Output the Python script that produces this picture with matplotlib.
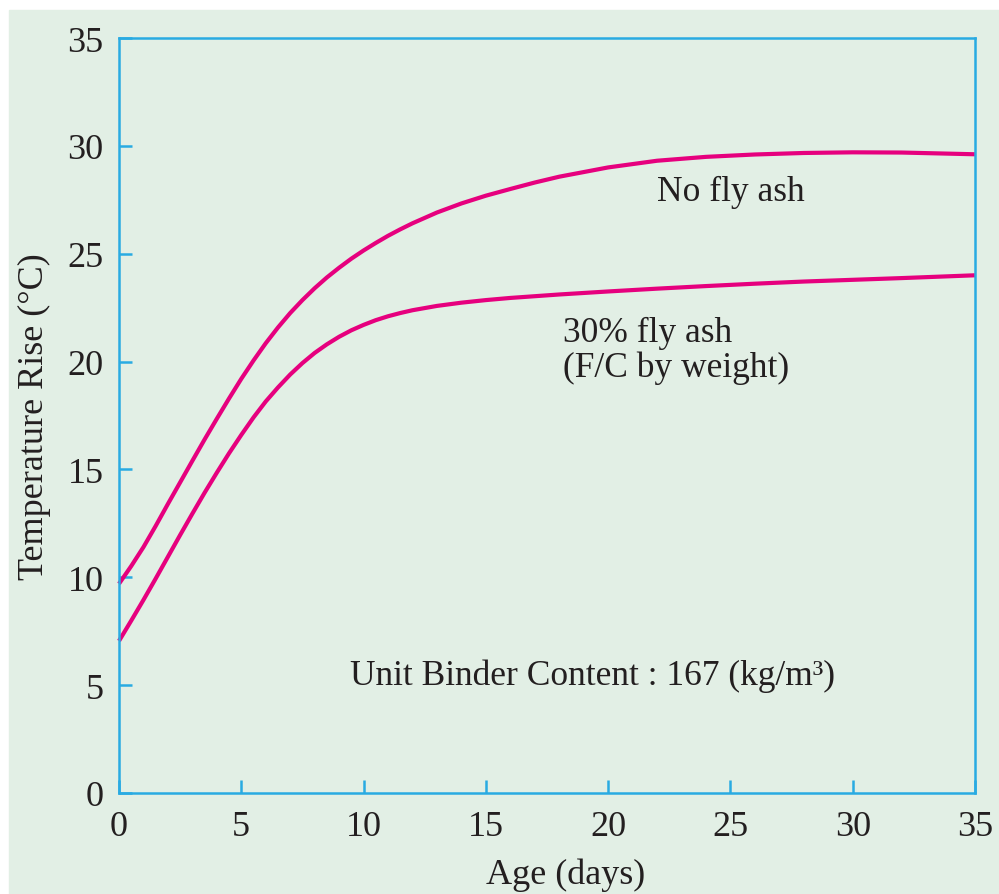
import matplotlib
matplotlib.use('Agg')
from matplotlib import pyplot as plt
from matplotlib.patches import Rectangle

# Data
days = [0, 0.5, 1, 1.5, 2, 2.5, 3, 3.5, 4, 4.5, 5, 5.5, 6, 6.5, 7, 7.5, 8, 8.5,
        9, 9.5, 10, 10.5, 11, 11.5, 12, 13, 14, 15, 16, 17, 18,
        20, 22, 24, 26, 28, 30, 32, 35]
no_fly_ash = [9.7, 10.52, 11.4, 12.38, 13.4, 14.4, 15.4, 16.39, 17.35, 18.29,
              19.2, 20.05, 20.85, 21.58, 22.25, 22.85, 23.4, 23.9, 24.35, 24.77,
              25.15, 25.5, 25.83, 26.13, 26.41, 26.91, 27.33, 27.69, 28.0,
              28.3, 28.57, 29.0, 29.31, 29.49, 29.6, 29.67, 29.7, 29.69, 29.61]
fly_ash_30 = [7.05, 7.99, 8.95, 9.94, 10.95, 11.96, 12.95, 13.92, 14.85, 15.75,
              16.6, 17.41, 18.15, 18.8, 19.4, 19.93, 20.4, 20.8, 21.15, 21.45,
              21.7, 21.92, 22.1, 22.25, 22.38, 22.58, 22.73, 22.85, 22.95,
              23.03, 23.11, 23.25, 23.38, 23.5, 23.61, 23.71, 23.79, 23.87, 24.0]
ticks = [0, 5, 10, 15, 20, 25, 30, 35]

bg = '#e2efe5'
blue = '#29abe2'
pink = '#e6007e'
ink = '#231f20'

plt.rcParams['font.family'] = ['Liberation Serif', 'DejaVu Serif']

fig = plt.figure(figsize=(9.99, 8.95), dpi=100, facecolor='white')
fig.patches.append(Rectangle((9 / 999, 0), 1, 1 - 11 / 895,
                             transform=fig.transFigure, color=bg, zorder=-5))
ax = fig.add_axes([119 / 999, 1 - 794 / 895, 856 / 999, 755 / 895])
ax.set_facecolor(bg)

ax.plot(days, no_fly_ash, color=pink, lw=3, solid_capstyle='butt',
        solid_joinstyle='round', clip_on=False)
ax.plot(days, fly_ash_30, color=pink, lw=3, solid_capstyle='butt',
        solid_joinstyle='round', clip_on=False)

ax.text(22.0, 27.9, 'No fly ash', fontsize=25.5, color=ink, va='center')
ax.text(18.15, 20.55, '30% fly ash\n(F/C by weight)', fontsize=25.5, color=ink,
        va='center', linespacing=1.05)
ax.text(9.44, 5.47, 'Unit Binder Content : 167 (kg/m\u00b3)', fontsize=25.5,
        color=ink, va='center')

ax.set_xlim(0, 35)
ax.set_ylim(0, 35)
ax.set_xticks(ticks)
ax.set_yticks(ticks)
for side in ax.spines:
    ax.spines[side].set_color(blue)
    ax.spines[side].set_linewidth(1.8)
ax.tick_params(axis='both', direction='in', length=9.5, width=1.8, color=blue,
               labelsize=26, labelcolor=ink)
ax.tick_params(axis='x', pad=12)
ax.tick_params(axis='y', pad=11)

ax.set_xlabel('Age (days)', fontsize=26, color=ink)
ax.xaxis.set_label_coords(0.522, -0.085)
ax.set_ylabel('Temperature Rise (\u00b0C)', fontsize=26, color=ink, labelpad=12)

fig.savefig('out.png', dpi=100, facecolor='white')
